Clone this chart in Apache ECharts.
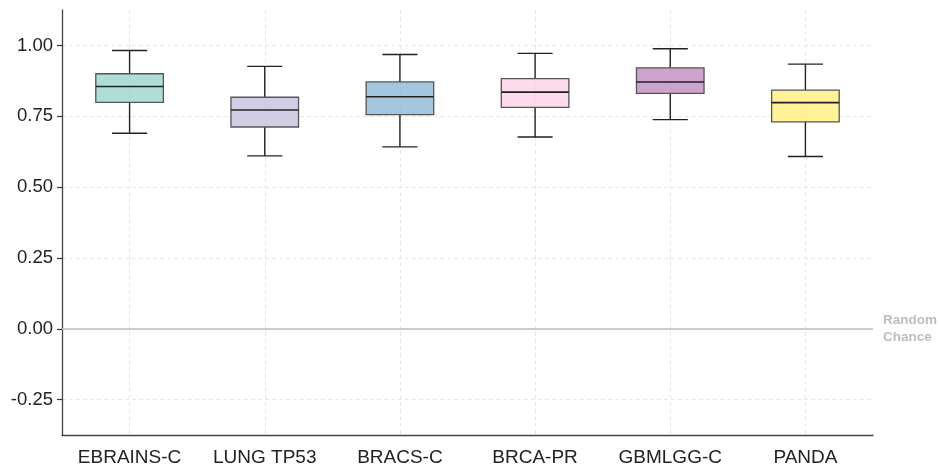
<!DOCTYPE html>
<html><head><meta charset="utf-8">
<script src="https://cdn.jsdelivr.net/npm/echarts@6/dist/echarts.min.js"></script>
<style>html,body{margin:0;padding:0;background:#fff}#c{width:940px;height:467px}</style>
</head><body><div id="c"></div>
<script>
const categories = ['EBRAINS-C','LUNG TP53','BRACS-C','BRCA-PR','GBMLGG-C','PANDA'];
// [lower whisker, Q1, median, Q3, upper whisker]
const whiskerLow = [0.690, 0.610, 0.642, 0.677, 0.738, 0.608];
const q1 =        [0.799, 0.712, 0.756, 0.781, 0.831, 0.730];
const median =    [0.855, 0.772, 0.819, 0.835, 0.871, 0.798];
const q3 =        [0.900, 0.817, 0.871, 0.883, 0.921, 0.842];
const whiskerHigh = [0.982, 0.926, 0.968, 0.972, 0.988, 0.934];
const yTicks = [-0.25, 0, 0.25, 0.5, 0.75, 1.0];
const colors = ['#8dd3c7','#bebada','#80b1d3','#fccde5','#bc80bd','#ffed6f'];

const data = categories.map((c, i) => [i, whiskerLow[i], q1[i], median[i], q3[i], whiskerHigh[i]]);

const chart = echarts.init(document.getElementById('c'));
chart.setOption({
  animation: false,
  grid: {left: 62, right: 67, top: 10, bottom: 32, containLabel: false},
  xAxis: {
    type: 'category', data: categories, boundaryGap: true,
    axisLine: {onZero: false, lineStyle: {color: '#444', width: 1.3}},
    axisTick: {alignWithLabel: true, length: 5, lineStyle: {color: '#333', width: 1.2}},
    axisLabel: {color: '#222', fontSize: 19, fontFamily: 'Liberation Sans, Arial, sans-serif', margin: 13},
    splitLine: {show: true, alignWithLabel: true, lineStyle: {color: '#e6e6e6', type: [4, 3], width: 1}}
  },
  yAxis: {
    type: 'value', min: -0.375, max: 1.125,
    axisLine: {show: true, lineStyle: {color: '#444', width: 1.3}},
    axisTick: {show: true, length: 5, customValues: yTicks, lineStyle: {color: '#333', width: 1.2}},
    axisLabel: {color: '#222', fontSize: 18.5, fontFamily: 'Liberation Sans, Arial, sans-serif', margin: 9,
      customValues: yTicks, formatter: v => v.toFixed(2)},
    splitLine: {show: true, lineStyle: {color: '#e6e6e6', type: [4, 3], width: 1}}
  },
  series: [{
    type: 'custom',
    data: data,
    encode: {x: 0, y: [1, 2, 3, 4, 5]},
    renderItem: function (params, api) {
      const i = api.value(0);
      const pLow = api.coord([i, api.value(1)]);
      const pQ1 = api.coord([i, api.value(2)]);
      const pMed = api.coord([i, api.value(3)]);
      const pQ3 = api.coord([i, api.value(4)]);
      const pHigh = api.coord([i, api.value(5)]);
      const band = api.size([1, 0])[0];
      const bw = band * 0.5;
      const cw = band * 0.26;
      const x = pMed[0];
      const col = echarts.color.modifyAlpha(colors[i], 0.72);
      return {
        type: 'group',
        children: [
          {type: 'line', shape: {x1: x, y1: pHigh[1], x2: x, y2: pQ3[1]}, style: {stroke: '#222', lineWidth: 1.4}},
          {type: 'line', shape: {x1: x, y1: pQ1[1], x2: x, y2: pLow[1]}, style: {stroke: '#222', lineWidth: 1.4}},
          {type: 'line', shape: {x1: x - cw / 2, y1: pHigh[1], x2: x + cw / 2, y2: pHigh[1]}, style: {stroke: '#222', lineWidth: 1.4}},
          {type: 'line', shape: {x1: x - cw / 2, y1: pLow[1], x2: x + cw / 2, y2: pLow[1]}, style: {stroke: '#222', lineWidth: 1.4}},
          {type: 'rect', shape: {x: x - bw / 2, y: pQ3[1], width: bw, height: pQ1[1] - pQ3[1]},
            style: {fill: col, stroke: '#555', lineWidth: 1.3}},
          {type: 'line', shape: {x1: x - bw / 2, y1: pMed[1], x2: x + bw / 2, y2: pMed[1]}, style: {stroke: '#222', lineWidth: 1.6}}
        ]
      };
    },
    markLine: {
      silent: true, symbol: 'none',
      lineStyle: {color: '#bdbdbd', type: 'solid', width: 1.5},
      label: {show: true, position: 'end', formatter: 'Random\nChance', color: '#bdbdbd', fontWeight: 'bold',
        fontSize: 13.5, fontFamily: 'Liberation Sans, Arial, sans-serif', lineHeight: 17, align: 'left', distance: 10},
      data: [{yAxis: 0}]
    },
    z: 3
  }]
});
</script></body></html>
